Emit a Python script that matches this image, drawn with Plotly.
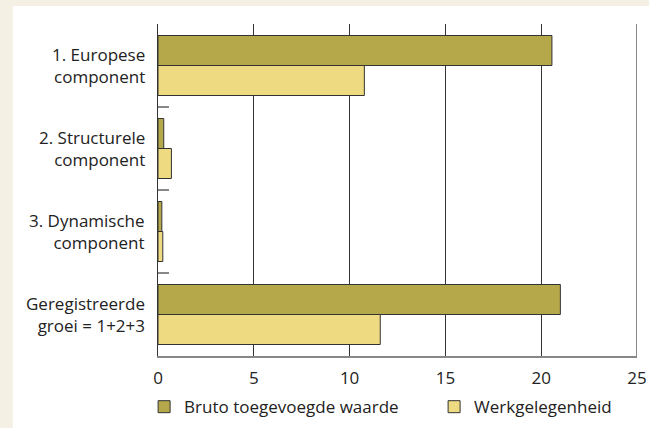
import plotly.graph_objects as go

# Data
categories = [
    "1. Europese<br>component",
    "2. Structurele<br>component",
    "3. Dynamische<br>component",
    "Geregistreerde<br>groei = 1+2+3",
]
bruto_toegevoegde_waarde = [20.56, 0.3, 0.2, 21.0]
werkgelegenheid = [10.77, 0.7, 0.25, 11.6]
x_ticks = [0, 5, 10, 15, 20, 25]

FONT = "Open Sans, Noto Sans, sans-serif"
TEXT = "#222222"
SIZE = 17

fig = go.Figure()

fig.add_trace(go.Bar(
    y=categories,
    x=bruto_toegevoegde_waarde,
    orientation="h",
    name="Bruto toegevoegde waarde",
    marker=dict(color="#b5a84b", line=dict(color="#333333", width=1)),
))
fig.add_trace(go.Bar(
    y=categories,
    x=werkgelegenheid,
    orientation="h",
    name="Werkgelegenheid",
    marker=dict(color="#eedb81", line=dict(color="#333333", width=1)),
))

# White card on the beige page, and the grey right border at 25
fig.add_shape(
    type="rect", xref="paper", yref="paper",
    x0=-0.303, x1=1.03, y0=-0.22, y1=1.054,
    fillcolor="white", line=dict(width=0), layer="below",
)
fig.add_shape(
    type="line", xref="x", yref="paper",
    x0=25, x1=25, y0=0, y1=1,
    line=dict(color="#888888", width=2),
)

# Category labels, right aligned (tick labels would be centred per line)
for cat in categories:
    fig.add_annotation(
        x=0, xref="paper", y=cat, yref="y",
        text=cat, showarrow=False, align="right",
        xanchor="right", yanchor="middle",
        xshift=-12, borderpad=0,
        font=dict(family=FONT, size=SIZE, color=TEXT),
    )

fig.update_layout(
    width=649,
    height=428,
    barmode="group",
    bargap=0.277,
    bargroupgap=0,
    paper_bgcolor="#f4f0e4",
    plot_bgcolor="white",
    margin=dict(l=158, r=12, t=24, b=72, autoexpand=False),
    font=dict(family=FONT, size=SIZE, color=TEXT),
    showlegend=True,
    legend=dict(
        orientation="h",
        x=-0.029, xanchor="left",
        y=-0.154, yanchor="middle",
        font=dict(family=FONT, size=SIZE, color=TEXT),
        bgcolor="rgba(0,0,0,0)",
        entrywidth=245,
        entrywidthmode="pixels",
        traceorder="normal",
    ),
    xaxis=dict(
        range=[0, 25],
        tickvals=x_ticks,
        ticktext=[str(v) for v in x_ticks],
        showgrid=True,
        gridcolor="#333333",
        gridwidth=1,
        zeroline=False,
        showline=True,
        linecolor="#888888",
        linewidth=2,
        ticks="",
        ticklabelstandoff=6,
        tickfont=dict(family=FONT, size=SIZE, color=TEXT),
        fixedrange=True,
    ),
    yaxis=dict(
        autorange="reversed",
        showgrid=False,
        zeroline=False,
        showline=True,
        linecolor="#333333",
        linewidth=1,
        ticks="inside",
        tickson="boundaries",
        ticklen=11,
        tickwidth=2,
        tickcolor="#888888",
        showticklabels=False,
        fixedrange=True,
    ),
)

# remove the default page margin so the figure sits at the window's corner
fig.write_html(
    "out.html",
    config={"displayModeBar": False},
    post_script="document.body.style.margin='0';",
)
